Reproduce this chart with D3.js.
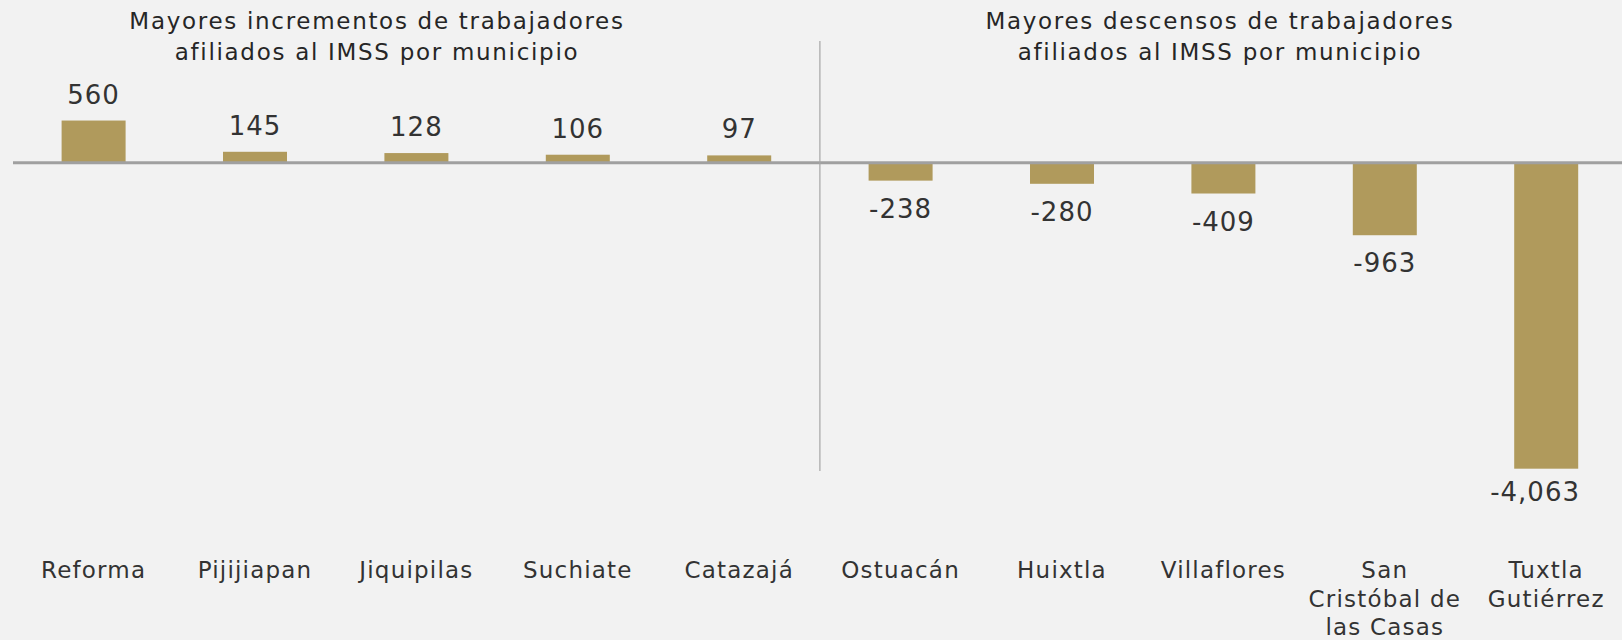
<!DOCTYPE html>
<html lang="es">
<head>
    <meta charset="UTF-8">
    <title>Trabajadores afiliados al IMSS por municipio</title>
    <script src="https://d3js.org/d3.v7.min.js"></script>
    <style>
        body { margin: 0; background: #f2f2f2; }
        text { font-family: "DejaVu Sans", sans-serif; fill: #333; }
    </style>
</head>
<body>
    <div id="grafico"></div>
    <script>
        const ancho = 1622;
        const alto = 640;

        // Datos
        const municipios = ["Reforma", "Pijijiapan", "Jiquipilas", "Suchiate", "Catazajá",
            "Ostuacán", "Huixtla", "Villaflores", "San Cristóbal de las Casas", "Tuxtla Gutiérrez"];
        const valores = [560, 145, 128, 106, 97, -238, -280, -409, -963, -4063];
        const titulos = [
            ["Mayores incrementos de trabajadores", "afiliados al IMSS por municipio"],
            ["Mayores descensos de trabajadores", "afiliados al IMSS por municipio"]
        ];

        const colorBarra = "#b09a5c";

        const svg = d3.select("#grafico")
            .append("svg")
            .attr("width", ancho)
            .attr("height", alto);

        svg.append("rect").attr("width", ancho).attr("height", alto).attr("fill", "#f2f2f2");

        const escalaX = d3.scaleBand()
            .domain(municipios)
            .range([12.9, 1626.9])
            .paddingInner(0.6035)
            .paddingOuter(0.30175);

        const escalaY = d3.scaleLinear()
            .domain([-4500, 1000])
            .range([501.6, 87.4]);

        const cero = escalaY(0);

        // Barras
        svg.selectAll("rect.barra")
            .data(valores)
            .enter()
            .append("rect")
            .attr("class", "barra")
            .attr("x", (d, i) => escalaX(municipios[i]))
            .attr("y", d => Math.min(escalaY(d), cero))
            .attr("width", escalaX.bandwidth())
            .attr("height", d => Math.abs(escalaY(d) - cero))
            .attr("fill", colorBarra);

        // Línea del cero
        svg.append("line")
            .attr("x1", 13).attr("x2", ancho)
            .attr("y1", cero).attr("y2", cero)
            .attr("stroke", "#a0a0a0")
            .attr("stroke-width", 3);

        // Separador
        const xSep = (escalaX(municipios[4]) + escalaX.bandwidth() + escalaX(municipios[5])) / 2;
        svg.append("line")
            .attr("x1", xSep).attr("x2", xSep)
            .attr("y1", 41).attr("y2", 471)
            .attr("stroke", "#a6a6a6")
            .attr("stroke-width", 1.2);

        // Etiquetas de valores (con guion normal como signo menos)
        const fmt = d3.formatLocale({
            decimal: ".", thousands: ",", grouping: [3], currency: ["$", ""], minus: "-"
        }).format(",");
        svg.selectAll("text.valor")
            .data(valores)
            .enter()
            .append("text")
            .attr("class", "valor")
            .attr("x", (d, i) => escalaX(municipios[i]) + escalaX.bandwidth() / 2)
            .attr("y", d => d >= 0 ? escalaY(d) - 17 : Math.min(escalaY(d) + 37, 501))
            .attr("text-anchor", "middle")
            .attr("font-size", 26)
            .attr("letter-spacing", 1)
            .text(d => fmt(d))
            .each(function () {
                // mantener la etiqueta dentro del área
                const b = this.getBBox();
                if (b.x + b.width > 1580) {
                    d3.select(this).attr("x", +d3.select(this).attr("x") - (b.x + b.width - 1580));
                }
            });

        // Etiquetas de categorías (con ajuste de línea)
        function envolver(texto, maxAncho, nodo) {
            const palabras = texto.split(" ");
            const lineas = [];
            let actual = [];
            palabras.forEach(p => {
                const prueba = actual.concat(p).join(" ");
                nodo.text(prueba);
                if (actual.length && nodo.node().getComputedTextLength() > maxAncho) {
                    lineas.push(actual.join(" "));
                    actual = [p];
                } else {
                    actual.push(p);
                }
            });
            lineas.push(actual.join(" "));
            nodo.text(null);
            return lineas;
        }

        municipios.forEach(m => {
            const t = svg.append("text")
                .attr("x", escalaX(m) + escalaX.bandwidth() / 2)
                .attr("y", 578)
                .attr("text-anchor", "middle")
                .attr("font-size", 23)
                .attr("letter-spacing", 1.2);
            const lineas = envolver(m, 158, t);
            lineas.forEach((l, j) => {
                t.append("tspan")
                    .attr("x", escalaX(m) + escalaX.bandwidth() / 2)
                    .attr("dy", j === 0 ? 0 : 28.5)
                    .text(l);
            });
        });

        // Títulos
        const centrosTitulo = [377, 1220];
        titulos.forEach((lineas, k) => {
            const t = svg.append("text")
                .attr("x", centrosTitulo[k])
                .attr("y", 29.3)
                .attr("text-anchor", "middle")
                .attr("font-size", 23)
                .attr("letter-spacing", 1.7)
                .style("fill", "#262626");
            lineas.forEach((l, j) => {
                t.append("tspan")
                    .attr("x", centrosTitulo[k])
                    .attr("dy", j === 0 ? 0 : 30.7)
                    .text(l);
            });
        });
    </script>
</body>
</html>
